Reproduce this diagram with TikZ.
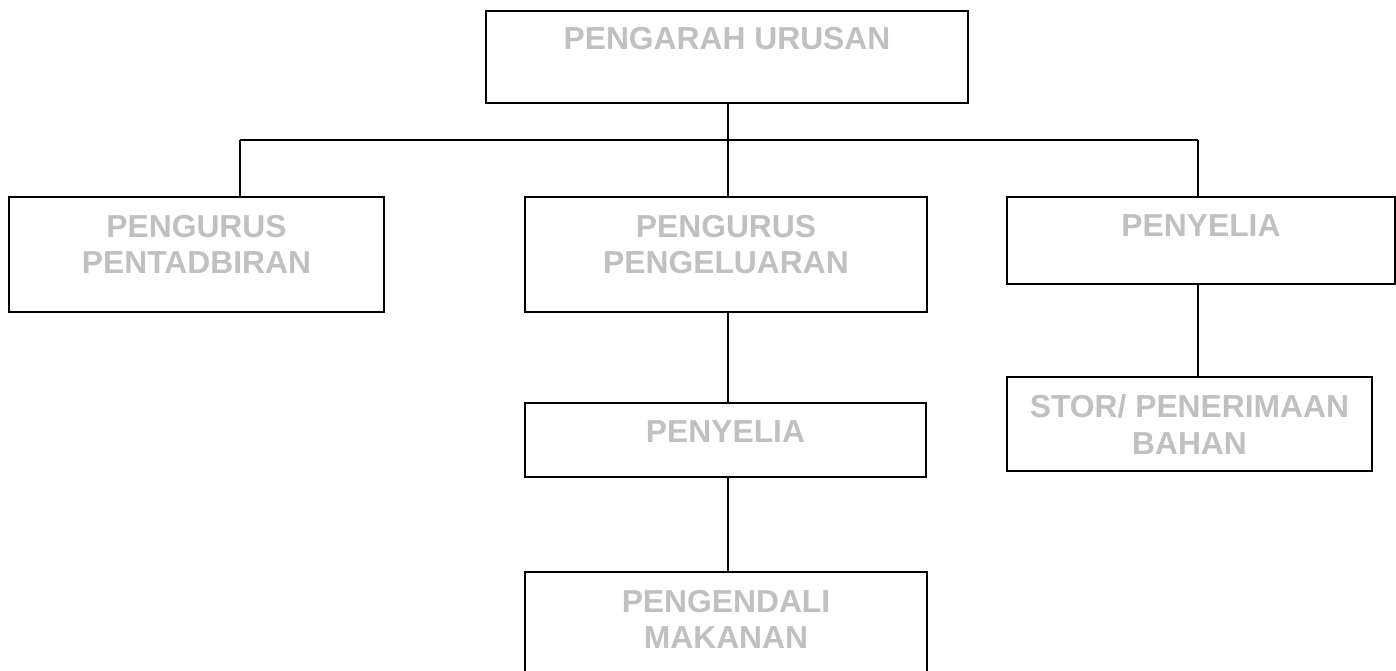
\documentclass[tikz,border=0pt]{standalone}
\usepackage{fontspec}
\setmainfont{Liberation Sans}
\usetikzlibrary{calc,positioning}
\definecolor{paletxt}{RGB}{192,192,192}

\begin{document}
\begin{tikzpicture}[x=0.02cm,y=-0.02cm]
    \tikzstyle{box}=[draw, line width=1.6pt, rectangle, inner sep=0pt]
    \tikzstyle{txt}=[text=paletxt, font=\bfseries\fontsize{18.1}{20.6}\selectfont, align=center, inner sep=0pt, anchor=north]
    \tikzstyle{wire}=[line width=1.2pt]

    \useasboundingbox (0,0) rectangle (1396,671);
    \clip (0,0) rectangle (1396,671);

    % boxes
    \node[box, minimum width=9.64cm, minimum height=1.84cm] (ur) at (727,57) {};
    \node[box, minimum width=7.5cm,  minimum height=2.3cm]  (pt) at (196.5,254.5) {};
    \node[box, minimum width=8.04cm, minimum height=2.3cm]  (pp) at (726,254.5) {};
    \node[box, minimum width=7.76cm, minimum height=1.74cm] (py) at (1201,240.5) {};
    \node[box, minimum width=8.02cm, minimum height=1.48cm] (sy) at (725.5,440) {};
    \node[box, minimum width=7.3cm,  minimum height=1.88cm] (st) at (1189.5,424) {};
    \node[box, minimum width=8.04cm, minimum height=2.56cm] (pm) at (726,636) {};

    % texts
    \node[txt] (ur-t) at ([yshift=-0.35cm]ur.north) {PENGARAH URUSAN};
    \node[txt] (pt-t) at ([yshift=-0.38cm]pt.north) {PENGURUS\\PENTADBIRAN};
    \node[txt] (pp-t) at ([yshift=-0.38cm]pp.north) {PENGURUS\\PENGELUARAN};
    \node[txt] (py-t) at ([yshift=-0.38cm]py.north) {PENYELIA};
    \node[txt] (sy-t) at ([yshift=-0.38cm]sy.north) {PENYELIA};
    \node[txt] (st-t) at ([yshift=-0.38cm]st.north) {STOR/ PENERIMAAN\\BAHAN};
    \node[txt] (pm-t) at ([yshift=-0.38cm]pm.north) {PENGENDALI\\MAKANAN};

    % bus
    \coordinate (bus-l) at (240,140);
    \coordinate (bus-m) at (728,140);
    \coordinate (bus-r) at (1198,140);

    \draw[wire] (bus-m |- ur.south) -- (bus-m);
    \draw[wire] (bus-l) -- (bus-r);
    \draw[wire] (bus-l) -- (bus-l |- pt.north);
    \draw[wire] (bus-m) -- (bus-m |- pp.north);
    \draw[wire] (bus-r) -- (bus-r |- py.north);
    \draw[wire] (bus-m |- pp.south) -- (bus-m |- sy.north);
    \draw[wire] (bus-m |- sy.south) -- (bus-m |- pm.north);
    \draw[wire] (bus-r |- py.south) -- (bus-r |- st.north);
\end{tikzpicture}
\end{document}
